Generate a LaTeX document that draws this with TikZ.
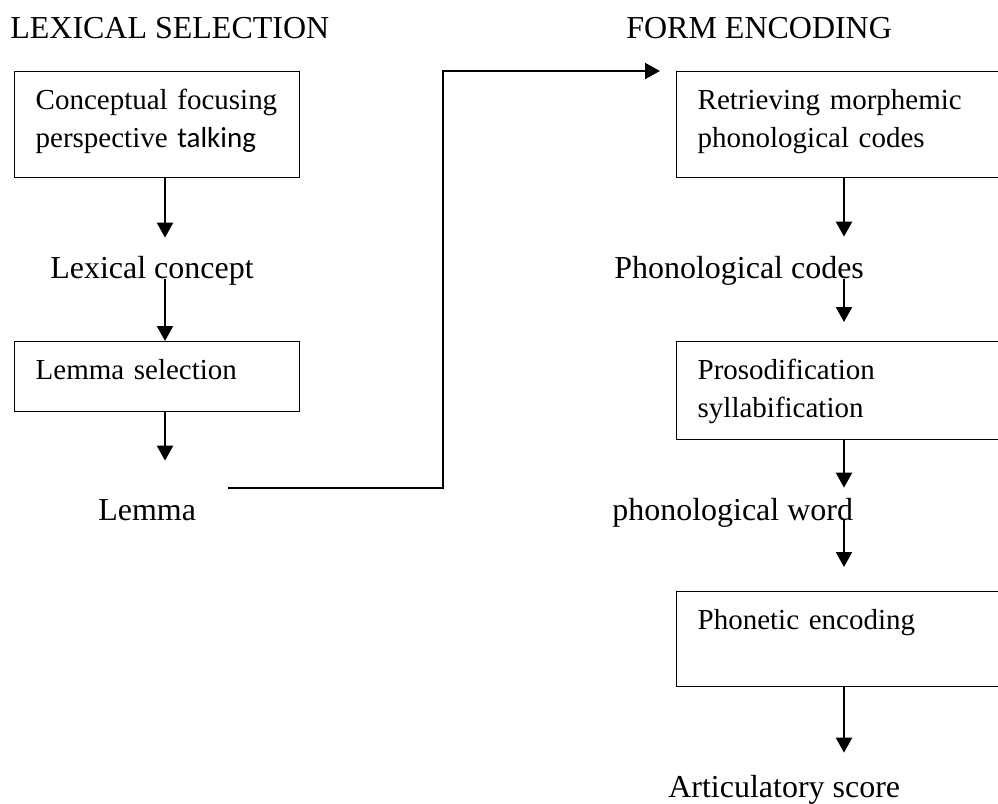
\documentclass[tikz,border=0pt]{standalone}
\usepackage{fontspec}
\setmainfont{Liberation Serif}
\newfontfamily\talkfont{Carlito}
\usetikzlibrary{arrows.meta}
\newcommand\tagsize{\fontsize{18.2}{22}\selectfont}
\newcommand\boxsize{\fontsize{16.5}{21.6}\selectfont}
\tikzset{
	stagebox/.style 2 args={draw, line width=.8pt, anchor=north west, align=left,
		inner xsep=4.2mm, inner ysep=0pt, text height=7.6mm,
		text width=#1, text depth=#2, font=\boxsize},
	outtag/.style={anchor=base west, inner sep=0pt, text height=4.4mm, text depth=0pt, font=\tagsize},
	arr/.style={line width=1.25pt, -{Triangle[length=3mm,width=3.2mm]}}
}

\begin{document}
\begin{tikzpicture}[x=.02cm, y=-.02cm]
	\useasboundingbox (0,0) rectangle (998,804);
	\clip (0,0) rectangle (998,804);
	% axes of the two columns
	\coordinate (axL) at (165,0);
	\coordinate (axR) at (844,0);
	\node[outtag] (T1) at (10,39) {LEXICAL SELECTION};
	\node[outtag] (T2) at (626,39) {FORM ENCODING};
	% lexical selection
	\node[stagebox={48.6mm}{13.6mm}] (B1) at (14,71) {Conceptual focusing\\perspective {\talkfont talking}};
	\node[outtag] (L1) at (50,279) {Lexical concept};
	\node[stagebox={48.6mm}{6.4mm}] (B2) at (14,341) {Lemma selection};
	\node[outtag] (Lm) at (98,520) {Lemma};
	% form encoding
	\node[stagebox={59.6mm}{13.6mm}] (B3) at (676,71) {Retrieving morphemic\\phonological codes};
	\node[outtag] (P1) at (614,279) {Phonological codes};
	\node[stagebox={59.6mm}{12mm}] (B4) at (676,341) {Prosodification\\syllabification};
	\node[outtag] (P2) at (612,520) {phonological word};
	\node[stagebox={59.6mm}{11.4mm}] (B5) at (676,591) {Phonetic encoding};
	\node[outtag] (A1) at (668,797) {Articulatory score};
	% down arrows
	\foreach \a/\b/\s in {B1.south/L1.north/3.8mm, L1.south/B2.north/0mm, B2.south/Lm.north/7.4mm}
		\draw[arr, shorten >=\s] (\a -| axL) -- (\b -| axL);
	\foreach \a/\b/\s in {B3.south/P1.north/4mm, P1.south/B4.north/3.8mm, B4.south/P2.north/2mm,
		P2.south/B5.north/4.8mm, B5.south/A1.north/4.4mm}
		\draw[arr, shorten >=\s] (\a -| axR) -- (\b -| axR);
	% lemma over to form encoding
	\coordinate (lmout) at (228,488);
	\coordinate (bend) at (443,71);
	\draw[arr, shorten >=3.2mm] (lmout) -| (bend) -- (B3.north west);
\end{tikzpicture}
\end{document}
